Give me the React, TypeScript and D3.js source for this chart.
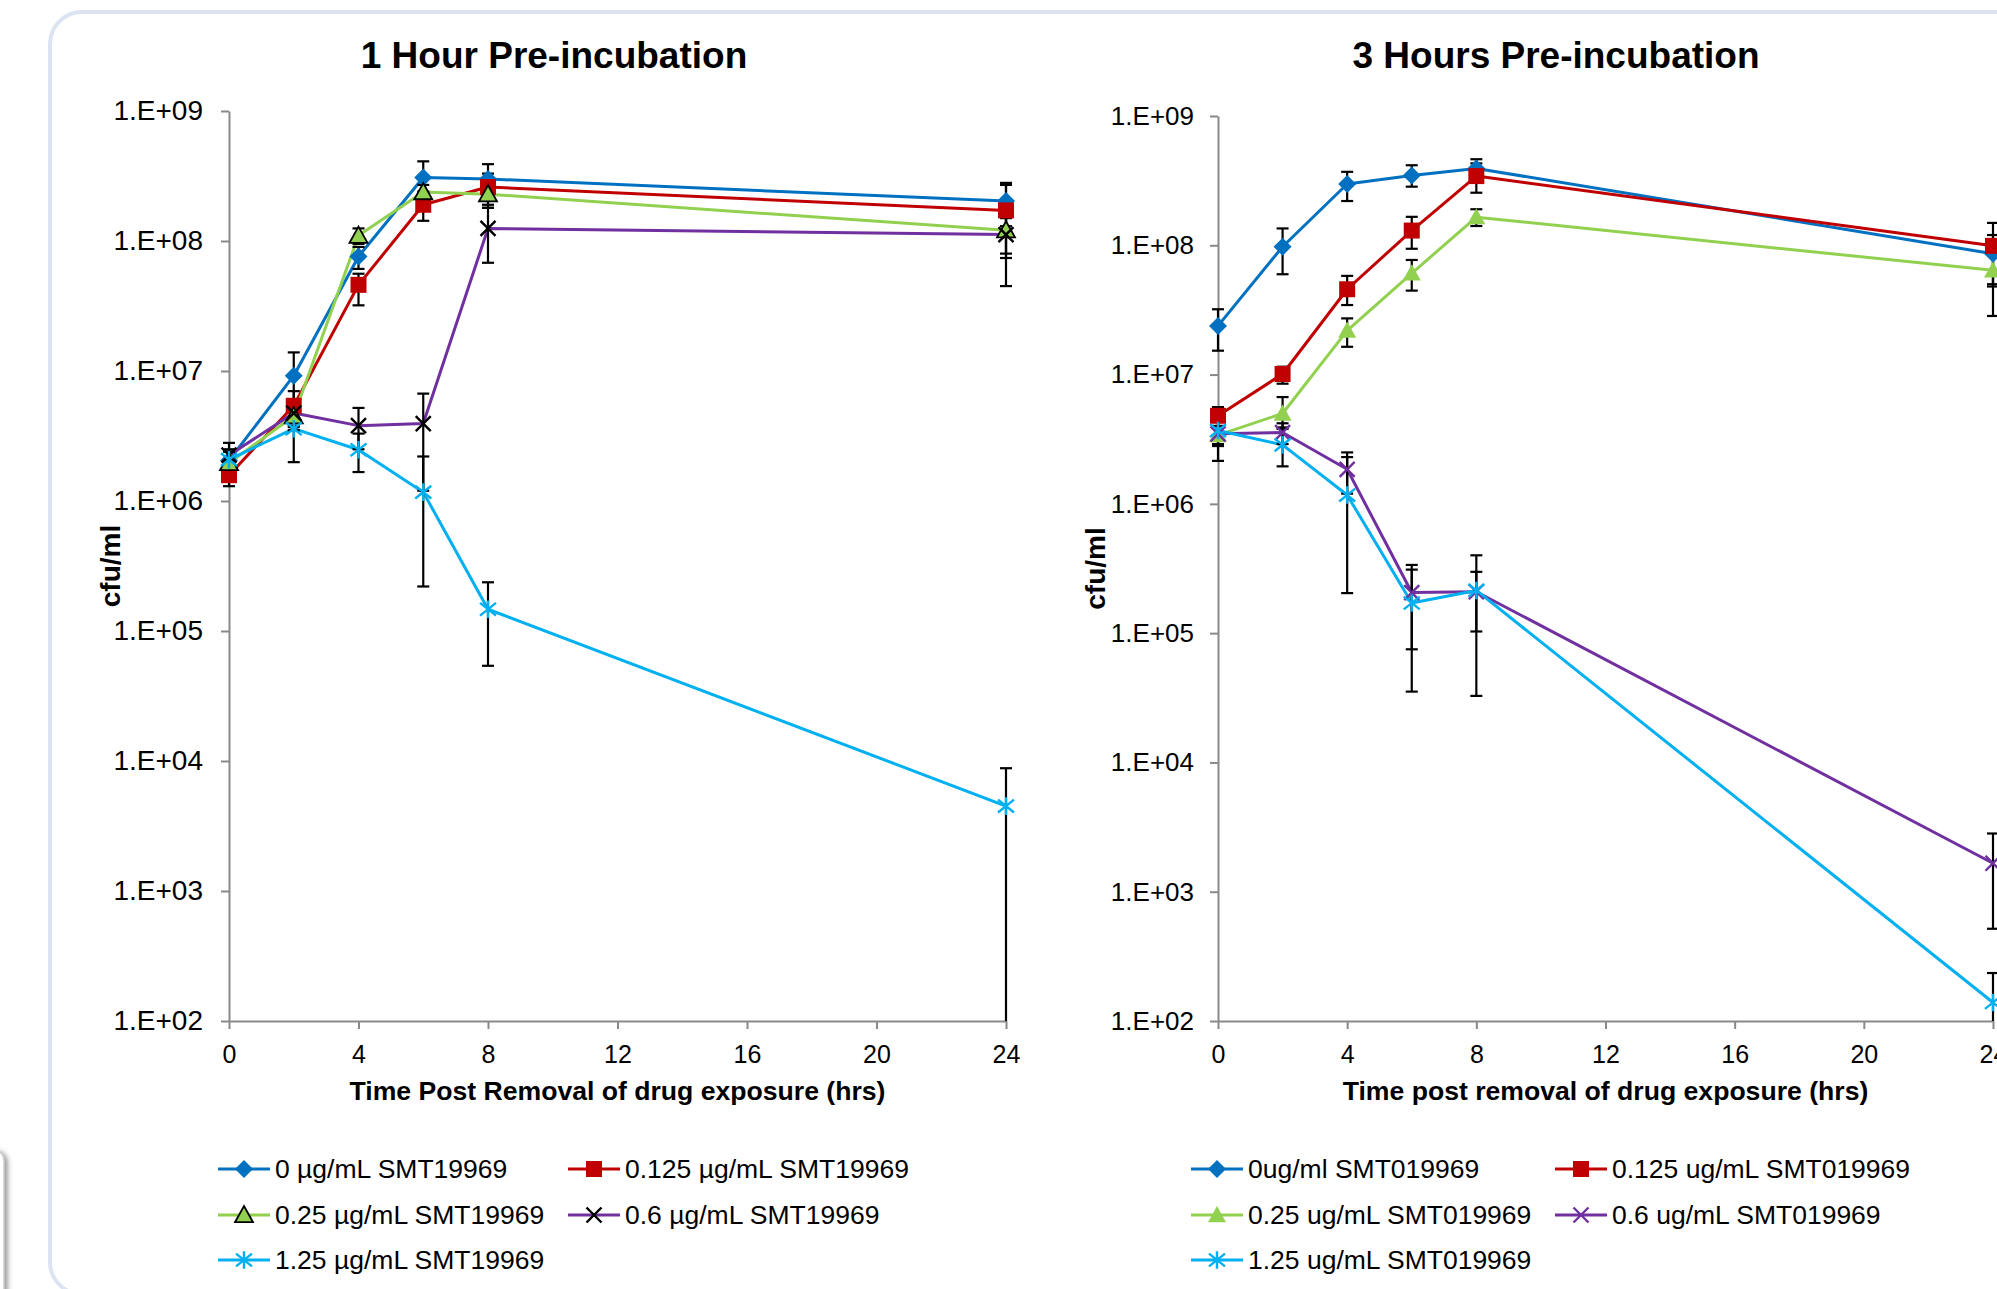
import React, { Component } from 'react';
import * as d3 from 'd3';

const times = [0, 2, 4, 6, 8, 24];
const xTickValues = [0, 4, 8, 12, 16, 20, 24];
const yTickValues = [1e2, 1e3, 1e4, 1e5, 1e6, 1e7, 1e8, 1e9];

// 1 hour pre-incubation (cfu/ml): mean, top and bottom of the error bar
const oneHourLabels = ['0 µg/mL SMT19969', '0.125 µg/mL SMT19969', '0.25 µg/mL SMT19969', '0.6 µg/mL SMT19969', '1.25 µg/mL SMT19969'];
const oneHour0Mean = [2.05e6, 9.2e6, 7.6e7, 3.08e8, 3.0e8, 2.03e8];
const oneHour0Hi = [2.5e6, 1.39e7, 9.0e7, 4.1e8, 3.9e8, 2.8e8];
const oneHour0Lo = [1.6e6, 5.0e6, 6.1e7, 2.1e8, 2.1e8, 1.3e8];
const oneHour125Mean = [1.58e6, 5.4e6, 4.6e7, 1.9e8, 2.6e8, 1.72e8];
const oneHour125Hi = [1.8e6, 7.0e6, 5.6e7, 2.4e8, 3.3e8, 2.7e8];
const oneHour125Lo = [1.3e6, 3.8e6, 3.2e7, 1.43e8, 1.9e8, 8.0e7];
const oneHour25Mean = [1.96e6, 4.5e6, 1.1e8, 2.38e8, 2.29e8, 1.21e8];
const oneHour25Hi = [2.4e6, 5.5e6, 1.25e8, 2.7e8, 2.6e8, 1.5e8];
const oneHour25Lo = [1.6e6, 3.5e6, 9.5e7, 2.0e8, 1.8e8, 7.4e7];
const oneHour6Mean = [2.25e6, 4.75e6, 3.8e6, 3.94e6, 1.25e8, 1.12e8];
const oneHour6Hi = [2.8e6, 5.8e6, 5.2e6, 6.7e6, 1.8e8, 1.6e8];
const oneHour6Lo = [1.7e6, 3.7e6, 2.5e6, 1.2e6, 6.8e7, 4.5e7];
const oneHour125bMean = [2.08e6, 3.6e6, 2.48e6, 1.17e6, 1.47e5, 4.5e3];
const oneHour125bHi = [2.4e6, 5.2e6, 3.3e6, 2.2e6, 2.37e5, 8.8e3];
const oneHour125bLo = [1.8e6, 1.99e6, 1.67e6, 2.2e5, 5.4e4, 50];

// 3 hours pre-incubation (cfu/ml)
const threeHourLabels = ['0ug/ml SMT019969', '0.125 ug/mL SMT019969', '0.25 ug/mL SMT019969', '0.6 ug/mL SMT019969', '1.25 ug/mL SMT019969'];
const threeHour0Mean = [2.38e7, 9.75e7, 2.98e8, 3.47e8, 3.93e8, 8.6e7];
const threeHour0Hi = [3.2e7, 1.35e8, 3.7e8, 4.16e8, 4.63e8, 1.2e8];
const threeHour0Lo = [1.53e7, 5.97e7, 2.2e8, 2.84e8, 3.3e8, 5.0e7];
const threeHour125Mean = [4.8e6, 1.01e7, 4.57e7, 1.3e8, 3.43e8, 9.9e7];
const threeHour125Hi = [5.6e6, 1.15e7, 5.8e7, 1.66e8, 4.3e8, 1.49e8];
const threeHour125Lo = [4.0e6, 8.5e6, 3.45e7, 9.4e7, 2.55e8, 4.8e7];
const threeHour25Mean = [3.4e6, 5.0e6, 2.19e7, 6.07e7, 1.65e8, 6.4e7];
const threeHour25Hi = [4.0e6, 6.7e6, 2.72e7, 7.7e7, 1.9e8, 8.5e7];
const threeHour25Lo = [2.8e6, 3.9e6, 1.64e7, 4.46e7, 1.41e8, 2.84e7];
const threeHour6Mean = [3.48e6, 3.56e6, 1.85e6, 2.06e5, 2.09e5, 1.66e3];
const threeHour6Hi = [4.0e6, 4.2e6, 2.5e6, 3.37e5, 4.0e5, 2.82e3];
const threeHour6Lo = [2.15e6, 2.9e6, 1.2e6, 7.5e4, 3.27e4, 517];
const threeHour125bMean = [3.69e6, 2.86e6, 1.17e6, 1.71e5, 2.14e5, 139];
const threeHour125bHi = [4.4e6, 3.8e6, 2.3e6, 3.1e5, 2.98e5, 235];
const threeHour125bLo = [2.9e6, 1.95e6, 2.04e5, 3.53e4, 1.03e5, 40];

const seriesStyles = [
  { color: '#0070C0', marker: 'diamond', size: 9 },
  { color: '#C00000', marker: 'square', size: 8 },
  { color: '#92D050', marker: 'triangle', size: 9 },
  { color: '#7030A0', marker: 'x', size: 7.5 },
  { color: '#00B0F0', marker: 'star', size: 8 },
];

const markerPath = {
  diamond: r => `M0,${-r}L${r},0L0,${r}L${-r},0Z`,
  square: r => `M${-r},${-r}h${2 * r}v${2 * r}h${-2 * r}Z`,
  triangle: r => `M0,${-r}L${r},${r * 0.8}L${-r},${r * 0.8}Z`,
  x: r => `M${-r},${-r}L${r},${r}M${r},${-r}L${-r},${r}`,
  star: r => `M${-r},${-r * 0.8}L${r},${r * 0.8}M${r},${-r * 0.8}L${-r},${r * 0.8}M0,${-r * 1.1}L0,${r * 1.1}`,
};

const makeSeries = (labels, means, his, los) =>
  labels.map((name, i) => ({ name, mean: means[i], hi: his[i], lo: los[i], ...seriesStyles[i] }));

const panels = [
  {
    title: '1 Hour Pre-incubation', titleX: 554,
    xTitle: 'Time Post Removal of drug exposure (hrs)',
    left: 229, right: 1006, top: 111, bottom: 1021,
    yLabelSize: 28, yLabelPad: 18, yTitleX: 120,
    legendX: [218, 568],
    blackMarkers: true,
    series: makeSeries(oneHourLabels,
      [oneHour0Mean, oneHour125Mean, oneHour25Mean, oneHour6Mean, oneHour125bMean],
      [oneHour0Hi, oneHour125Hi, oneHour25Hi, oneHour6Hi, oneHour125bHi],
      [oneHour0Lo, oneHour125Lo, oneHour25Lo, oneHour6Lo, oneHour125bLo]),
  },
  {
    title: '3 Hours Pre-incubation', titleX: 1556,
    xTitle: 'Time post removal of drug exposure (hrs)',
    left: 1218, right: 1993, top: 116, bottom: 1021,
    yLabelSize: 26, yLabelPad: 16, yTitleX: 1105,
    legendX: [1191, 1555],
    blackMarkers: false,
    series: makeSeries(threeHourLabels,
      [threeHour0Mean, threeHour125Mean, threeHour25Mean, threeHour6Mean, threeHour125bMean],
      [threeHour0Hi, threeHour125Hi, threeHour25Hi, threeHour6Hi, threeHour125bHi],
      [threeHour0Lo, threeHour125Lo, threeHour25Lo, threeHour6Lo, threeHour125bLo]),
  },
];

const FONT = '"Liberation Sans", Arial, Helvetica, sans-serif';
const legendRows = [1169, 1215, 1260];

function drawMarker(g, s, cx, cy, blackMarkers) {
  const isLine = s.marker === 'x' || s.marker === 'star';
  const p = g.append('path')
    .attr('d', markerPath[s.marker](s.size))
    .attr('transform', `translate(${cx},${cy})`);
  if (isLine) {
    p.attr('fill', 'none')
      .attr('stroke', blackMarkers && s.marker === 'x' ? '#000' : s.color)
      .attr('stroke-width', 2.4);
  } else {
    p.attr('fill', s.color);
    if (blackMarkers && s.marker === 'triangle') {
      p.attr('stroke', '#000').attr('stroke-width', 1.8);
    }
  }
}

function drawPanel(svg, panel) {
  const x = d3.scaleLinear().domain([0, 24]).range([panel.left, panel.right]);
  const y = d3.scaleLog().domain([1e2, 1e9]).range([panel.bottom, panel.top]).clamp(true);
  const g = svg.append('g');

  const yAxis = d3.axisLeft(y)
    .tickValues(yTickValues)
    .tickSize(8).tickSizeOuter(0).tickPadding(panel.yLabelPad)
    .tickFormat(d => '1.E+' + String(Math.round(Math.log10(d))).padStart(2, '0'));
  const xAxis = d3.axisBottom(x)
    .tickValues(xTickValues)
    .tickSize(8).tickSizeOuter(0).tickPadding(16)
    .tickFormat(d3.format('d'));

  const ya = g.append('g').attr('transform', `translate(${panel.left},0)`).call(yAxis);
  const xa = g.append('g').attr('transform', `translate(0,${panel.bottom})`).call(xAxis);
  [ya, xa].forEach(a => {
    a.select('.domain').attr('stroke', '#898989').attr('stroke-width', 2);
    a.selectAll('.tick line').attr('stroke', '#898989').attr('stroke-width', 2);
    a.selectAll('.tick text').attr('fill', '#000').style('font-family', FONT);
  });
  ya.selectAll('.tick text').style('font-size', panel.yLabelSize + 'px');
  xa.selectAll('.tick text').style('font-size', '25px');

  // titles
  g.append('text')
    .attr('x', panel.titleX).attr('y', 68)
    .attr('text-anchor', 'middle')
    .style('font-family', FONT).style('font-weight', 'bold').style('font-size', '37px')
    .text(panel.title);
  g.append('text')
    .attr('x', (panel.left + panel.right) / 2).attr('y', 1100)
    .attr('text-anchor', 'middle')
    .style('font-family', FONT).style('font-weight', 'bold').style('font-size', '26.6px')
    .text(panel.xTitle);
  g.append('text')
    .attr('transform', `translate(${panel.yTitleX},${(panel.top + panel.bottom) / 2}) rotate(-90)`)
    .attr('text-anchor', 'middle')
    .style('font-family', FONT).style('font-weight', 'bold').style('font-size', '28px')
    .text('cfu/ml');

  const line = d3.line()
    .x((d, i) => x(times[i]))
    .y(d => y(d));

  panel.series.forEach(s => {
    g.append('path')
      .attr('d', line(s.mean))
      .attr('fill', 'none')
      .attr('stroke', s.color)
      .attr('stroke-width', 3)
      .attr('stroke-linejoin', 'round');
  });

  // error bars
  panel.series.forEach(s => {
    times.forEach((t, i) => {
      const cx = x(t);
      g.append('line')
        .attr('x1', cx).attr('x2', cx)
        .attr('y1', y(s.lo[i])).attr('y2', y(s.hi[i]))
        .attr('stroke', '#000').attr('stroke-width', 2.2);
      [s.lo[i], s.hi[i]].forEach(v => {
        if (v < 1e2) return;
        g.append('line')
          .attr('x1', cx - 6).attr('x2', cx + 6)
          .attr('y1', y(v)).attr('y2', y(v))
          .attr('stroke', '#000').attr('stroke-width', 2.2);
      });
    });
  });

  panel.series.forEach(s => {
    s.mean.forEach((v, i) => drawMarker(g, s, x(times[i]), y(v), panel.blackMarkers));
  });

  // legend
  panel.series.forEach((s, i) => {
    const lx = panel.legendX[i % 2];
    const ly = legendRows[Math.floor(i / 2)];
    g.append('line')
      .attr('x1', lx).attr('x2', lx + 52)
      .attr('y1', ly).attr('y2', ly)
      .attr('stroke', s.color).attr('stroke-width', 3);
    drawMarker(g, s, lx + 26, ly, panel.blackMarkers);
    g.append('text')
      .attr('x', lx + 57).attr('y', ly).attr('dy', '0.35em')
      .style('font-family', FONT).style('font-size', '26.5px')
      .text(s.name);
  });
}

export default class App extends Component {
  constructor(props) {
    super(props);
    this.svgRef = React.createRef();
  }

  componentDidMount() {
    const svg = d3.select(this.svgRef.current);
    svg.selectAll('*').remove();

    const defs = svg.append('defs');
    defs.append('filter').attr('id', 'boxShadow')
      .attr('x', '-50%').attr('y', '-50%').attr('width', '200%').attr('height', '200%')
      .append('feDropShadow')
      .attr('dx', 3).attr('dy', 2).attr('stdDeviation', 2.5)
      .attr('flood-color', '#555').attr('flood-opacity', 0.6);

    // edge of the neighbouring box, bottom left
    svg.append('rect')
      .attr('x', -60).attr('y', 1150).attr('width', 64).attr('height', 200).attr('rx', 10)
      .attr('fill', '#fff').attr('stroke', '#c9c9c9').attr('stroke-width', 1.5)
      .attr('filter', 'url(#boxShadow)');

    // rounded frame
    svg.append('rect')
      .attr('x', 50).attr('y', 12).attr('width', 2000).attr('height', 1282).attr('rx', 32)
      .attr('fill', '#fff').attr('stroke', '#dbe4f0').attr('stroke-width', 4);

    panels.forEach(p => drawPanel(svg, p));
  }

  render() {
    return (
      <svg ref={this.svgRef} width={1997} height={1289}
        style={{ position: 'absolute', left: 0, top: 0, background: '#fff' }} />
    );
  }
}
